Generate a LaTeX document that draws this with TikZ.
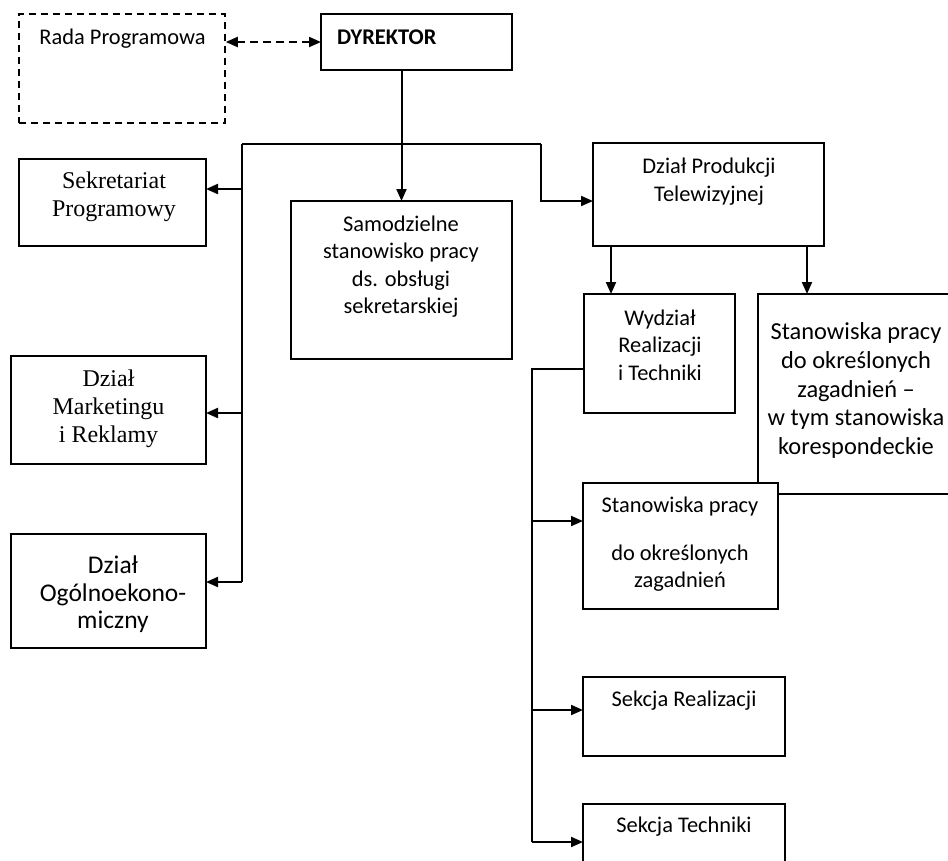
\documentclass[tikz,border=0pt]{standalone}
\usepackage{fontspec}
\setmainfont{Carlito}
\newfontfamily\tnr{Liberation Serif}
\usetikzlibrary{arrows.meta,calc}
\newcommand\bx[6][]{\node[box,#1,minimum width={(#5-#3)*1pt},minimum height={(#6-#4)*1pt}] (#2) at ({(#3+#5)/2},{(#4+#6)/2}) {};}
\begin{document}
\begin{tikzpicture}[x=1pt,y=-1pt,
  box/.style={draw, line width=1.5pt, inner sep=0pt, outer sep=0pt, fill=white},
  dbox/.style={draw, line width=1.5pt, dash pattern=on 7pt off 5pt},
  tip/.tip={Triangle[length=12pt,width=10pt]},
  conn/.style={line width=2pt, -tip},
  bus/.style={line width=2pt},
  txt/.style={align=center, inner sep=0pt, font=\fontsize{22.4}{27.5}\selectfont},
  serif/.style={align=center, inner sep=0pt, font=\tnr\fontsize{24}{28.2}\selectfont},
]
\useasboundingbox (0,0) rectangle (948,860);
\clip (0,0) rectangle (948,860);
\fill[white] (0,0) rectangle (948,860);

% boxes
\node[dbox, inner sep=0pt, minimum width=206pt, minimum height=109pt] (rada) at (122,68.5) {};
\bx{dyr}{321}{14}{512}{70}
\bx{sek}{19}{159}{206}{246}
\bx{samo}{291}{201}{512}{359}
\bx{prod}{593}{143}{824}{246}
\bx{wyd}{584}{294}{735}{413}
\bx{stan}{758}{294}{962}{494}
\bx{mark}{11}{356}{206}{464}
\bx{ogol}{11}{534}{206}{648}
\bx{stp}{583}{483}{778}{609}
\bx{sr}{583}{677}{785}{756}
\bx{st}{583}{804}{785}{880}

% texts
\node[txt] (trada) at (122.5,39) {Rada Programowa};
\node[txt, anchor=west, font=\bfseries\fontsize{22.4}{27.5}\selectfont] (tdyr) at (337,37) {DYREKTOR};
\node[serif] (tsek) at (114,197) {Sekretariat\\Programowy};
\node[txt] (tsamo) at (401,266.5) {Samodzielne\\stanowisko pracy\\ds. obsługi\\sekretarskiej};
\node[txt] (tprod) at (709,181.5) {Dział Produkcji\\Telewizyjnej};
\node[txt] (twyd) at (660,345) {Wydział\\Realizacji\\i Techniki};
\node[txt, font=\fontsize{24.4}{28.7}\selectfont] (tstan) at (856,390.5) {Stanowiska pracy\\do określonych\\zagadnień –\\w tym stanowiska\\korespondeckie};
\node[serif] (tmark) at (108.5,408.5) {Dział\\Marketingu\\i Reklamy};
\node[txt, font=\fontsize{25.5}{27.6}\selectfont] (togol) at (113,594.5) {Dział\\Ogólnoekono-\\miczny};
\node[txt] (tstp1) at (680,507) {Stanowiska pracy};
\node[txt] (tstp2) at (680,568) {do określonych\\zagadnień};
\node[txt] (tsr) at (684,701) {Sekcja Realizacji};
\node[txt] (tst) at (684,827) {Sekcja Techniki};

% connectors
\draw[line width=2pt, dash pattern=on 8pt off 5pt, tip-tip] (dyr.west -| rada.east) -- (dyr.west);
\draw[conn] (samo.north |- dyr.south) -- (samo.north);

\coordinate (bL) at (242,144);
\coordinate (bR) at (541,144);
\coordinate (b1) at (242,189);
\coordinate (b2) at (242,413);
\coordinate (b3) at (242,582);
\draw[bus] (bL) -- (bR);
\draw[conn] (bR) |- ($(prod.west)+(0,6.5)$);
\draw[bus] (bL) -- (b3);
\draw[conn] (b1) -- (b1 -| sek.east);
\draw[conn] (b2) -- (b2 -| mark.east);
\draw[conn] (b3) -- (b3 -| ogol.east);

\coordinate (p1) at (611,246);
\coordinate (p2) at (807,246);
\draw[conn] (p1) -- (p1 |- wyd.north);
\draw[conn] (p2) -- (p2 |- stan.north);

\coordinate (w1) at (532,369);
\coordinate (w2) at (532,521);
\coordinate (w3) at (532,710);
\coordinate (w4) at (532,842);
\draw[bus] (w1 -| wyd.west) -- (w1) -- (w4);
\draw[conn] (w2) -- (w2 -| stp.west);
\draw[conn] (w3) -- (w3 -| sr.west);
\draw[conn] (w4) -- (w4 -| st.west);
\end{tikzpicture}
\end{document}
